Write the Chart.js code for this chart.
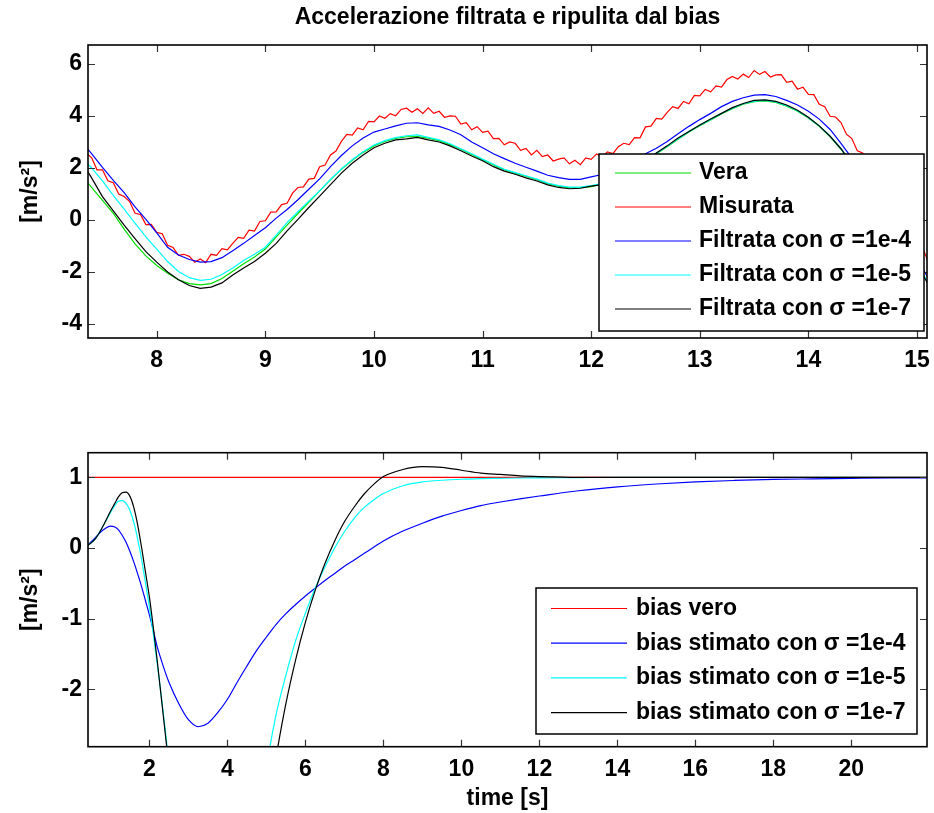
<!DOCTYPE html>
<html>
<head>
<meta charset="utf-8">
<title>Accelerazione filtrata e ripulita dal bias</title>
<script src="https://cdn.jsdelivr.net/npm/chart.js@4.4.0/dist/chart.umd.min.js"></script>
<style>
  html, body { margin: 0; padding: 0; background: #fff; }
  #wrap { position: relative; width: 934px; height: 813px; }
  canvas { position: absolute; left: 0; }
  #chart-acc { top: 0; }
  #chart-bias { top: 400px; }
</style>
</head>
<body>
<div id="wrap">
  <canvas id="chart-acc" width="934" height="400"></canvas>
  <canvas id="chart-bias" width="934" height="413"></canvas>
</div>
<script>
// ---- Data ----

// top plot: time [s] and acceleration [m/s^2]
const tAcc = [7.3, 7.4, 7.5, 7.6, 7.7, 7.8, 7.9, 8.0, 8.1, 8.2, 8.3, 8.4, 8.5, 8.6, 8.7, 8.8, 8.9, 9.0, 9.1, 9.2,
  9.3, 9.4, 9.5, 9.6, 9.7, 9.8, 9.9, 10.0, 10.1, 10.2, 10.3, 10.4, 10.5, 10.6, 10.7, 10.8, 10.9, 11.0, 11.1, 11.2,
  11.3, 11.4, 11.5, 11.6, 11.7, 11.8, 11.9, 12.0, 12.1, 12.2, 12.3, 12.4, 12.5, 12.6, 12.7, 12.8, 12.9, 13.0, 13.1, 13.2,
  13.3, 13.4, 13.5, 13.6, 13.7, 13.8, 13.9, 14.0, 14.1, 14.2, 14.3, 14.4, 14.5, 14.6, 14.7, 14.8, 14.9, 15.0, 15.1];

const accVera = [1.75, 1.25, 0.75, 0.25, -0.35, -0.92, -1.38, -1.75, -2.05, -2.3, -2.45, -2.5, -2.45, -2.25, -1.97, -1.68, -1.42, -1.12, -0.65, -0.2,
  0.25, 0.68, 1.12, 1.55, 1.95, 2.3, 2.6, 2.85, 3.02, 3.14, 3.2, 3.21, 3.15, 3.05, 2.9, 2.72, 2.52, 2.32, 2.12, 1.93,
  1.8, 1.68, 1.55, 1.4, 1.3, 1.24, 1.24, 1.28, 1.38, 1.55, 1.78, 2.02, 2.28, 2.55, 2.82, 3.1, 3.38, 3.62, 3.85, 4.08,
  4.28, 4.45, 4.55, 4.58, 4.52, 4.38, 4.18, 3.92, 3.6, 3.2, 2.72, 2.15, 1.52, 0.88, 0.22, -0.42, -1.05, -1.7, -2.42];

const accFilt4 = [3.05, 2.55, 2.02, 1.52, 1.05, 0.5, 0.02, -0.5, -1.05, -1.35, -1.52, -1.62, -1.6, -1.45, -1.18, -0.9, -0.6, -0.3, 0.07, 0.4,
  0.78, 1.18, 1.58, 2.05, 2.48, 2.85, 3.15, 3.38, 3.5, 3.62, 3.72, 3.74, 3.66, 3.6, 3.46, 3.28, 3.0, 2.78, 2.55, 2.36,
  2.18, 2.03, 1.88, 1.72, 1.63, 1.56, 1.56, 1.66, 1.75, 1.92, 2.12, 2.36, 2.55, 2.76, 3.02, 3.32, 3.6, 3.86, 4.1, 4.36,
  4.56, 4.7, 4.8, 4.82, 4.75, 4.6, 4.42, 4.18, 3.88, 3.48, 2.95, 2.38, 1.75, 1.12, 0.48, -0.15, -0.8, -1.48, -2.22];

const accFilt5 = [2.45, 2.0, 1.5, 0.95, 0.42, -0.12, -0.65, -1.12, -1.6, -1.98, -2.22, -2.32, -2.28, -2.1, -1.85, -1.56, -1.32, -1.05, -0.58, -0.1,
  0.32, 0.72, 1.12, 1.56, 1.96, 2.32, 2.62, 2.88, 3.05, 3.17, 3.24, 3.27, 3.18, 3.08, 2.93, 2.74, 2.55, 2.34, 2.14, 1.95,
  1.82, 1.7, 1.57, 1.42, 1.32, 1.26, 1.26, 1.32, 1.4, 1.57, 1.8, 2.04, 2.3, 2.57, 2.84, 3.12, 3.4, 3.64, 3.87, 4.1,
  4.3, 4.47, 4.57, 4.6, 4.54, 4.4, 4.2, 3.94, 3.62, 3.22, 2.74, 2.17, 1.54, 0.9, 0.24, -0.4, -1.03, -1.68, -2.4];

const accFilt7 = [2.3, 1.62, 0.9, 0.35, -0.2, -0.72, -1.22, -1.62, -2.0, -2.3, -2.52, -2.63, -2.58, -2.42, -2.12, -1.85, -1.6, -1.28, -0.9, -0.42,
  0.02, 0.48, 0.92, 1.36, 1.8, 2.18, 2.5, 2.78, 2.95, 3.08, 3.12, 3.18, 3.08, 3.0, 2.85, 2.66, 2.46, 2.28, 2.05, 1.88,
  1.76, 1.62, 1.5, 1.35, 1.25, 1.2, 1.22, 1.3, 1.36, 1.55, 1.8, 2.02, 2.3, 2.58, 2.85, 3.15, 3.4, 3.65, 3.88, 4.1,
  4.32, 4.48, 4.6, 4.62, 4.56, 4.42, 4.22, 3.95, 3.62, 3.22, 2.74, 2.16, 1.53, 0.88, 0.22, -0.43, -1.08, -1.72, -2.45];

// measured signal is noisy, so it is read on a finer time grid
const tMis = [7.3, 7.35, 7.4, 7.45, 7.5, 7.55, 7.6, 7.65, 7.7, 7.75, 7.8, 7.85, 7.9, 7.95, 8.0, 8.05, 8.1, 8.15, 8.2, 8.25,
  8.3, 8.35, 8.4, 8.45, 8.5, 8.55, 8.6, 8.65, 8.7, 8.75, 8.8, 8.85, 8.9, 8.95, 9.0, 9.05, 9.1, 9.15, 9.2, 9.25,
  9.3, 9.35, 9.4, 9.45, 9.5, 9.55, 9.6, 9.65, 9.7, 9.75, 9.8, 9.85, 9.9, 9.95, 10.0, 10.05, 10.1, 10.15, 10.2, 10.25,
  10.3, 10.35, 10.4, 10.45, 10.5, 10.55, 10.6, 10.65, 10.7, 10.75, 10.8, 10.85, 10.9, 10.95, 11.0, 11.05, 11.1, 11.15, 11.2, 11.25,
  11.3, 11.35, 11.4, 11.45, 11.5, 11.55, 11.6, 11.65, 11.7, 11.75, 11.8, 11.85, 11.9, 11.95, 12.0, 12.05, 12.1, 12.15, 12.2, 12.25,
  12.3, 12.35, 12.4, 12.45, 12.5, 12.55, 12.6, 12.65, 12.7, 12.75, 12.8, 12.85, 12.9, 12.95, 13.0, 13.05, 13.1, 13.15, 13.2, 13.25,
  13.3, 13.35, 13.4, 13.45, 13.5, 13.55, 13.6, 13.65, 13.7, 13.75, 13.8, 13.85, 13.9, 13.95, 14.0, 14.05, 14.1, 14.15, 14.2, 14.25,
  14.3, 14.35, 14.4, 14.45, 14.5, 14.55, 14.6, 14.65, 14.7, 14.75, 14.8, 14.85, 14.9, 14.95, 15.0, 15.05, 15.1];

const accMisurata = [3.05, 2.57, 2.40, 1.93, 1.93, 1.51, 1.43, 1.00, 0.90, 0.71,
  0.26, 0.21, -0.18, -0.17, -0.48, -0.53, -0.97, -1.06, -1.36, -1.32,
  -1.40, -1.63, -1.50, -1.64, -1.32, -1.36, -1.10, -1.15, -0.90, -0.67,
  -0.71, -0.39, -0.43, -0.06, -0.03, 0.30, 0.31, 0.59, 0.64, 1.03,
  1.25, 1.27, 1.57, 1.60, 2.05, 2.11, 2.50, 2.65, 3.02, 3.29,
  3.26, 3.54, 3.47, 3.79, 3.77, 4.00, 3.91, 4.09, 4.01, 4.25,
  4.30, 4.14, 4.28, 4.10, 4.31, 4.10, 4.18, 3.95, 4.00, 3.99,
  3.69, 3.74, 3.47, 3.59, 3.37, 3.42, 3.13, 3.14, 2.89, 3.00,
  2.95, 2.68, 2.75, 2.50, 2.68, 2.44, 2.50, 2.27, 2.34, 2.39,
  2.16, 2.30, 2.13, 2.39, 2.33, 2.54, 2.43, 2.62, 2.55, 2.82,
  2.95, 2.90, 3.17, 3.16, 3.58, 3.61, 3.91, 3.88, 4.14, 4.36,
  4.29, 4.56, 4.47, 4.79, 4.77, 5.02, 4.93, 5.16, 5.11, 5.40,
  5.52, 5.42, 5.61, 5.48, 5.75, 5.60, 5.71, 5.50, 5.58, 5.59,
  5.29, 5.34, 5.03, 5.11, 4.83, 4.82, 4.45, 4.36, 3.99, 3.96,
  3.75, 3.30, 3.13, 2.66, 2.58, 2.08, 1.86, 1.35, 1.12, 0.89,
  0.36, 0.18, -0.33, -0.43, -0.88, -1.06, -1.57];

const xTicksAcc = [8, 9, 10, 11, 12, 13, 14, 15];
const yTicksAcc = [-4, -2, 0, 2, 4, 6];

// bottom plot: bias estimates
const tBias = [0.4, 0.6, 0.8, 1.0, 1.1, 1.2, 1.3, 1.4, 1.5, 1.6, 1.7, 1.8, 1.9, 2.0, 2.1, 2.2, 2.3, 2.4, 2.5, 2.75,
  3.0, 3.25, 3.5, 3.75, 4.0, 4.25, 4.5, 4.75, 5.0, 5.25, 5.5, 5.75, 6.0, 6.25, 6.5, 6.75, 7.0, 7.25, 7.5, 7.75,
  8.0, 8.5, 9.0, 9.5, 10.0, 10.5, 11.0, 11.5, 12.0, 13.0, 14.0, 15.0, 16.0, 17.0, 18.0, 19.0, 20.0, 21.0, 22.0];

const biasStima4 = [0.03, 0.14, 0.25, 0.31, 0.3, 0.26, 0.18, 0.08, -0.05, -0.2, -0.37, -0.55, -0.75, -0.95, -1.17, -1.4, -1.58, -1.75, -1.9, -2.2,
  -2.43, -2.53, -2.48, -2.33, -2.14, -1.9, -1.67, -1.45, -1.26, -1.08, -0.93, -0.8, -0.68, -0.57, -0.46, -0.36, -0.26, -0.17, -0.08, 0.01,
  0.1, 0.24, 0.35, 0.45, 0.53, 0.6, 0.65, 0.695, 0.735, 0.81, 0.865, 0.905, 0.935, 0.955, 0.97, 0.978, 0.985, 0.99, 0.99];

const biasStima5 = [0.03, 0.12, 0.3, 0.5, 0.59, 0.66, 0.67, 0.63, 0.53, 0.36, 0.12, -0.17, -0.5, -0.84, -1.22, -1.64, -2.08, -2.55, -3.05, -4.1,
  -4.9, -5.5, -5.8, -5.85, -5.7, -5.35, -4.85, -4.0, -3.1, -2.35, -1.8, -1.31, -0.92, -0.57, -0.27, 0.0, 0.23, 0.42, 0.57, 0.68,
  0.77, 0.88, 0.935, 0.958, 0.972, 0.98, 0.985, 0.99, 0.992, 0.995, 1.0, 1.0, 1.0, 1.0, 1.0, 1.0, 1.0, 1.0, 1.0];

const biasStima7 = [0.03, 0.12, 0.3, 0.52, 0.62, 0.72, 0.78, 0.79, 0.73, 0.57, 0.32, 0.0, -0.35, -0.7, -1.13, -1.6, -2.1, -2.6, -3.1, -4.2,
  -5.0, -5.6, -5.9, -6.0, -5.9, -5.6, -5.1, -4.5, -3.8, -2.95, -2.2, -1.58, -1.05, -0.6, -0.22, 0.1, 0.37, 0.58, 0.76, 0.9,
  1.01, 1.11, 1.15, 1.14, 1.1, 1.06, 1.04, 1.02, 1.01, 1.0, 1.0, 1.0, 1.0, 1.0, 1.0, 1.0, 1.0, 1.0, 1.0];

const tVero = [0, 22];
const biasVero = [1, 1];

const xTicksBias = [2, 4, 6, 8, 10, 12, 14, 16, 18, 20];
const yTicksBias = [-2, -1, 0, 1];

// ---- Shared look ----

const FONT = '"Liberation Sans", Arial, Helvetica, sans-serif';
Chart.defaults.font.family = FONT;
Chart.defaults.color = '#000';

const pts = (xs, ys) => xs.map((x, i) => ({ x, y: ys[i] }));

function line(label, xs, ys, color, order, smooth) {
  return {
    label,
    data: pts(xs, ys),
    borderColor: color,
    backgroundColor: color,
    borderWidth: 1.2,
    pointRadius: 0,
    tension: 0,
    cubicInterpolationMode: smooth ? 'monotone' : 'default',
    order,
    clip: 0
  };
}

// MATLAB style box with inward ticks on all four sides
const matlabAxes = {
  id: 'matlabAxes',
  afterDatasetsDraw(chart) {
    const { ctx, chartArea: a, scales: { x, y } } = chart;
    const len = 7;
    ctx.save();
    ctx.strokeStyle = '#333';
    ctx.lineWidth = 1.2;
    ctx.beginPath();
    x.ticks.forEach(t => {
      const px = Math.round(x.getPixelForValue(t.value)) + 0.5;
      ctx.moveTo(px, a.bottom); ctx.lineTo(px, a.bottom - len);
      ctx.moveTo(px, a.top); ctx.lineTo(px, a.top + len);
    });
    y.ticks.forEach(t => {
      const py = Math.round(y.getPixelForValue(t.value)) + 0.5;
      ctx.moveTo(a.left, py); ctx.lineTo(a.left + len, py);
      ctx.moveTo(a.right, py); ctx.lineTo(a.right - len, py);
    });
    ctx.stroke();
    ctx.strokeStyle = '#000';
    ctx.lineWidth = 1.6;
    ctx.strokeRect(a.left, a.top, a.right - a.left, a.bottom - a.top);
    ctx.restore();
  }
};

// boxed legend drawn inside the plot area
const boxLegend = {
  id: 'boxLegend',
  afterDraw(chart, args, o) {
    const ctx = chart.ctx;
    ctx.save();
    ctx.fillStyle = '#fff';
    ctx.fillRect(o.x, o.y, o.w, o.h);
    ctx.strokeStyle = '#000';
    ctx.lineWidth = 1.5;
    ctx.strokeRect(o.x, o.y, o.w, o.h);
    ctx.font = `bold ${o.fontSize}px ${FONT}`;
    ctx.textBaseline = 'middle';
    chart.data.datasets.forEach((ds, i) => {
      const yy = o.firstRow + i * o.rowH;
      ctx.strokeStyle = ds.borderColor;
      ctx.lineWidth = 1.2;
      ctx.beginPath();
      ctx.moveTo(o.lineX0, yy);
      ctx.lineTo(o.lineX1, yy);
      ctx.stroke();
      ctx.fillStyle = '#000';
      ctx.fillText(ds.label, o.textX, yy);
    });
    ctx.restore();
  }
};

function axes(xMin, xMax, xTicks, xHeight, yMin, yMax, yTicks, xTitle) {
  const tickFont = { size: 23, weight: 'bold' };
  return {
    x: {
      type: 'linear', min: xMin, max: xMax,
      afterBuildTicks: s => { s.ticks = xTicks.map(v => ({ value: v })); },
      afterFit: s => { s.height = xHeight; s.paddingLeft = 0; s.paddingRight = 0; },
      grid: { display: false, drawTicks: false },
      border: { display: false },
      ticks: { padding: 9, font: tickFont, color: '#000', maxRotation: 0, autoSkip: false },
      title: xTitle
        ? { display: true, text: xTitle, font: tickFont, color: '#000', padding: { top: 0, bottom: 1 } }
        : { display: false }
    },
    y: {
      type: 'linear', min: yMin, max: yMax,
      afterBuildTicks: s => { s.ticks = yTicks.map(v => ({ value: v })); },
      afterFit: s => { s.width = 88; s.paddingTop = 0; s.paddingBottom = 0; },
      grid: { display: false, drawTicks: false },
      border: { display: false },
      ticks: { padding: 6, font: tickFont, color: '#000', autoSkip: false },
      title: { display: true, text: '[m/s²]', font: tickFont, color: '#000', padding: { top: 17, bottom: 0 } }
    }
  };
}

// ---- Top: filtered acceleration ----

new Chart(document.getElementById('chart-acc'), {
  type: 'line',
  data: {
    datasets: [
      line('Vera', tAcc, accVera, '#00dd00', 5),
      line('Misurata', tMis, accMisurata, '#ff0000', 4),
      line('Filtrata con σ =1e-4', tAcc, accFilt4, '#0000ff', 3),
      line('Filtrata con σ =1e-5', tAcc, accFilt5, '#00ffff', 2),
      line('Filtrata con σ =1e-7', tAcc, accFilt7, '#000000', 1)
    ]
  },
  options: {
    responsive: false,
    animation: false,
    layout: { padding: { left: 0, right: 7, top: 0, bottom: 0 } },
    scales: axes(7.367, 15.092, xTicksAcc, 62, -4.54, 6.73, yTicksAcc, null),
    plugins: {
      legend: { display: false },
      tooltip: { enabled: false },
      title: {
        display: true,
        fullSize: false,
        text: 'Accelerazione filtrata e ripulita dal bias',
        font: { size: 23, weight: 'bold' },
        color: '#000',
        padding: { top: 4, bottom: 13.4 }
      },
      boxLegend: { x: 599, y: 154, w: 325, h: 177, firstRow: 173, rowH: 34, lineX0: 615, lineX1: 691, textX: 699, fontSize: 23 }
    }
  },
  plugins: [matlabAxes, boxLegend]
});

// ---- Bottom: bias estimate ----

new Chart(document.getElementById('chart-bias'), {
  type: 'line',
  data: {
    datasets: [
      line('bias vero', tVero, biasVero, '#ff0000', 4),
      line('bias stimato con σ =1e-4', tBias, biasStima4, '#0000ff', 3, true),
      line('bias stimato con σ =1e-5', tBias, biasStima5, '#00ffff', 2, true),
      line('bias stimato con σ =1e-7', tBias, biasStima7, '#000000', 1, true)
    ]
  },
  options: {
    responsive: false,
    animation: false,
    layout: { padding: { left: 0, right: 7, top: 52.7, bottom: 0 } },
    scales: axes(0.424, 21.94, xTicksBias, 66.3, -2.812, 1.348, yTicksBias, 'time [s]'),
    plugins: {
      legend: { display: false },
      tooltip: { enabled: false },
      boxLegend: { x: 536, y: 188, w: 381, h: 146, firstRow: 208.5, rowH: 34.7, lineX0: 551, lineX1: 627, textX: 636, fontSize: 23 }
    }
  },
  plugins: [matlabAxes, boxLegend]
});
</script>
</body>
</html>
